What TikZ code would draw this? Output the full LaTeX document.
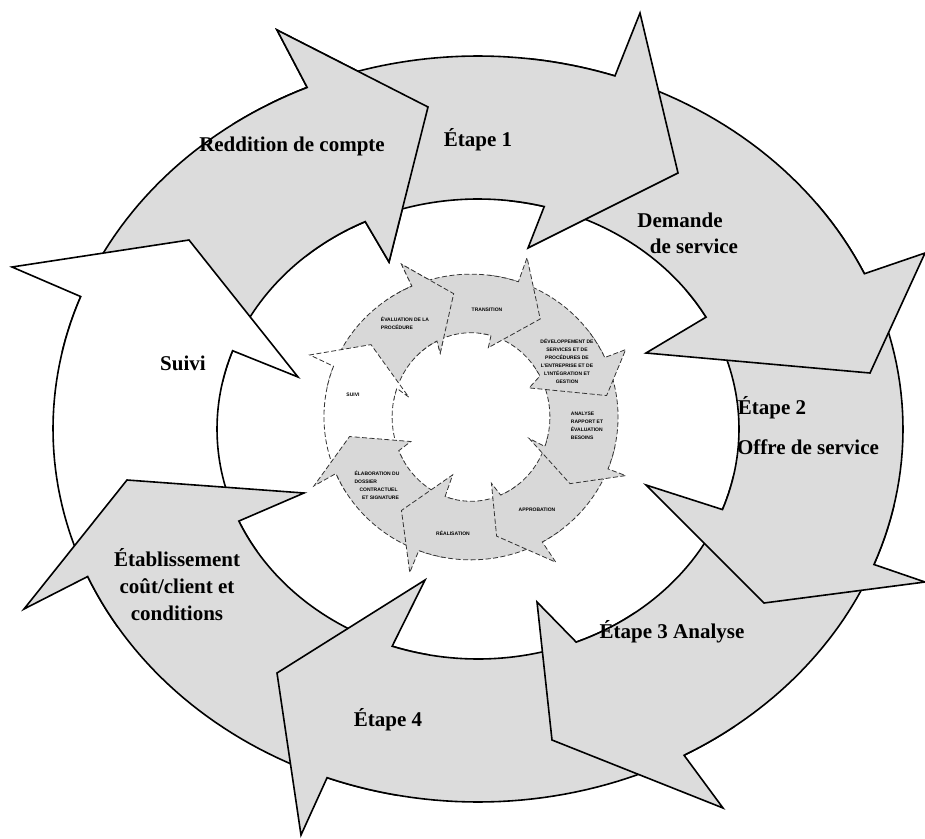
\documentclass[tikz,border=0pt]{standalone}
\usepackage{fontspec}
\setmainfont{Liberation Serif}
\setsansfont{Liberation Sans}
\definecolor{biggray}{HTML}{DCDCDC}
\definecolor{smallgray}{HTML}{D8D8D8}
\def\irx{261}\def\iry{230}
\newcommand\cycarrow[7]{%
  \path[#1] plot[domain=#2:#3,samples=40] ({425*cos(\x)},{373*sin(\x)})
    -- #5 -- #6 -- #7 --
    plot[domain=#4:#2,samples=40] ({\irx*cos(\x)},{\iry*sin(\x)}) -- cycle;}
\newcommand\allarrows[2]{%
  \cycarrow{#1}{552}{606.3}{604.4}{(-201,-399)}{(-50,-322)}{(-89,-167)}%
  \cycarrow{#2}{508}{560.8}{559.9}{(-466,-162)}{(-289,-189)}{(-180,-52)}%
  \cycarrow{#1}{461}{516.7}{516.4}{(-454,180)}{(-351,51)}{(-174,64)}%
  \cycarrow{#1}{413}{470.8}{469.2}{(-177,406)}{(-201,244)}{(-53,151)}%
  \cycarrow{#1}{372}{421}{427.9}{(245,379)}{(74,311)}{(59,173)}%
  \cycarrow{#1}{323}{381.3}{380.5}{(447,153)}{(286,174)}{(168,56)}%
  \cycarrow{#1}{277}{335.4}{330.9}{(447,-176)}{(392,-56)}{(168,-76)}%
  \cycarrow{#1}{241}{288.8}{284.7}{(162,-416)}{(200,-256)}{(50,-181)}%
  \begin{scope}
    \clip (-248,-429) -- (2,-429) -- (2,-129) -- (-148,-129) -- (-248,-309) -- cycle;
    \cycarrow{#1}{552}{606.3}{604.4}{(-201,-399)}{(-50,-322)}{(-89,-167)}%
  \end{scope}}
\begin{document}
\begin{tikzpicture}[x=1pt,y=-1pt,
  bigfill/.style={draw=black,line width=1.6pt,line join=miter,fill=biggray},
  bigwhite/.style={draw=black,line width=1.6pt,line join=miter,fill=white},
  smallfill/.style={draw=black!80,line width=0.8pt,dash pattern=on 5pt off 2.5pt,fill=smallgray},
  smallwhite/.style={draw=black!80,line width=0.8pt,dash pattern=on 5pt off 2.5pt,fill=white},
  lbl/.style={font=\bfseries\fontsize{21}{27}\selectfont,inner sep=0pt,align=center},
  sm/.style={font=\sffamily\bfseries\fontsize{5}{8}\selectfont,inner sep=0pt}]
\useasboundingbox (0,0) rectangle (925,838);
\fill[white] (0,0) rectangle (925,838);
\begin{scope}[shift={(478,429)}]
  \allarrows{bigfill}{bigwhite}
\end{scope}
\def\irx{228}\def\iry{220}
\begin{scope}[shift={(471,417)},xscale=0.346,yscale=0.383]
  \allarrows{smallfill}{smallwhite}
\end{scope}
% big labels
\node[lbl] (reddition) at (292,146) {Reddition de compte};
\node[lbl] (etape1) at (478,140) {Étape 1};
\node[lbl] (demande) at (680,220) {Demande};
\node[lbl] (deservice) at (694,246) {de service};
\node[lbl] (etape2) at (772,408) {Étape 2};
\node[lbl] (offre) at (808,447) {Offre de service};
\node[lbl] (etape3) at (672,632) {Étape 3 Analyse};
\node[lbl] (etape4) at (388,720) {Étape 4};
\node[lbl] (etab) at (177,585) {Établissement\\coût/client et\\conditions};
\node[lbl] (suivi) at (183,363) {Suivi};
% small labels
\node[sm,align=left] (s1) at (405,323) {ÉVALUATION DE LA\\PROCÉDURE};
\node[sm] (s2) at (487,310) {TRANSITION};
\node[sm,align=center] (s3) at (567,361) {DÉVELOPPEMENT DE\\SERVICES ET DE\\PROCÉDURES DE\\L'ENTREPRISE ET DE\\L'INTÉGRATION ET\\GESTION};
\node[sm,align=left] (s4) at (587,426) {ANALYSE\\RAPPORT ET\\ÉVALUATION\\BESOINS};
\node[sm] (s5) at (537,510) {APPROBATION};
\node[sm] (s6) at (453,533) {RÉALISATION};
\node[sm,align=left] (s7) at (377,485) {ÉLABORATION DU\\DOSSIER\\\hspace*{1em}CONTRACTUEL\\\hspace*{1.5em}ET SIGNATURE};
\node[sm] (s8) at (353,395) {SUIVI};
\end{tikzpicture}
\end{document}
